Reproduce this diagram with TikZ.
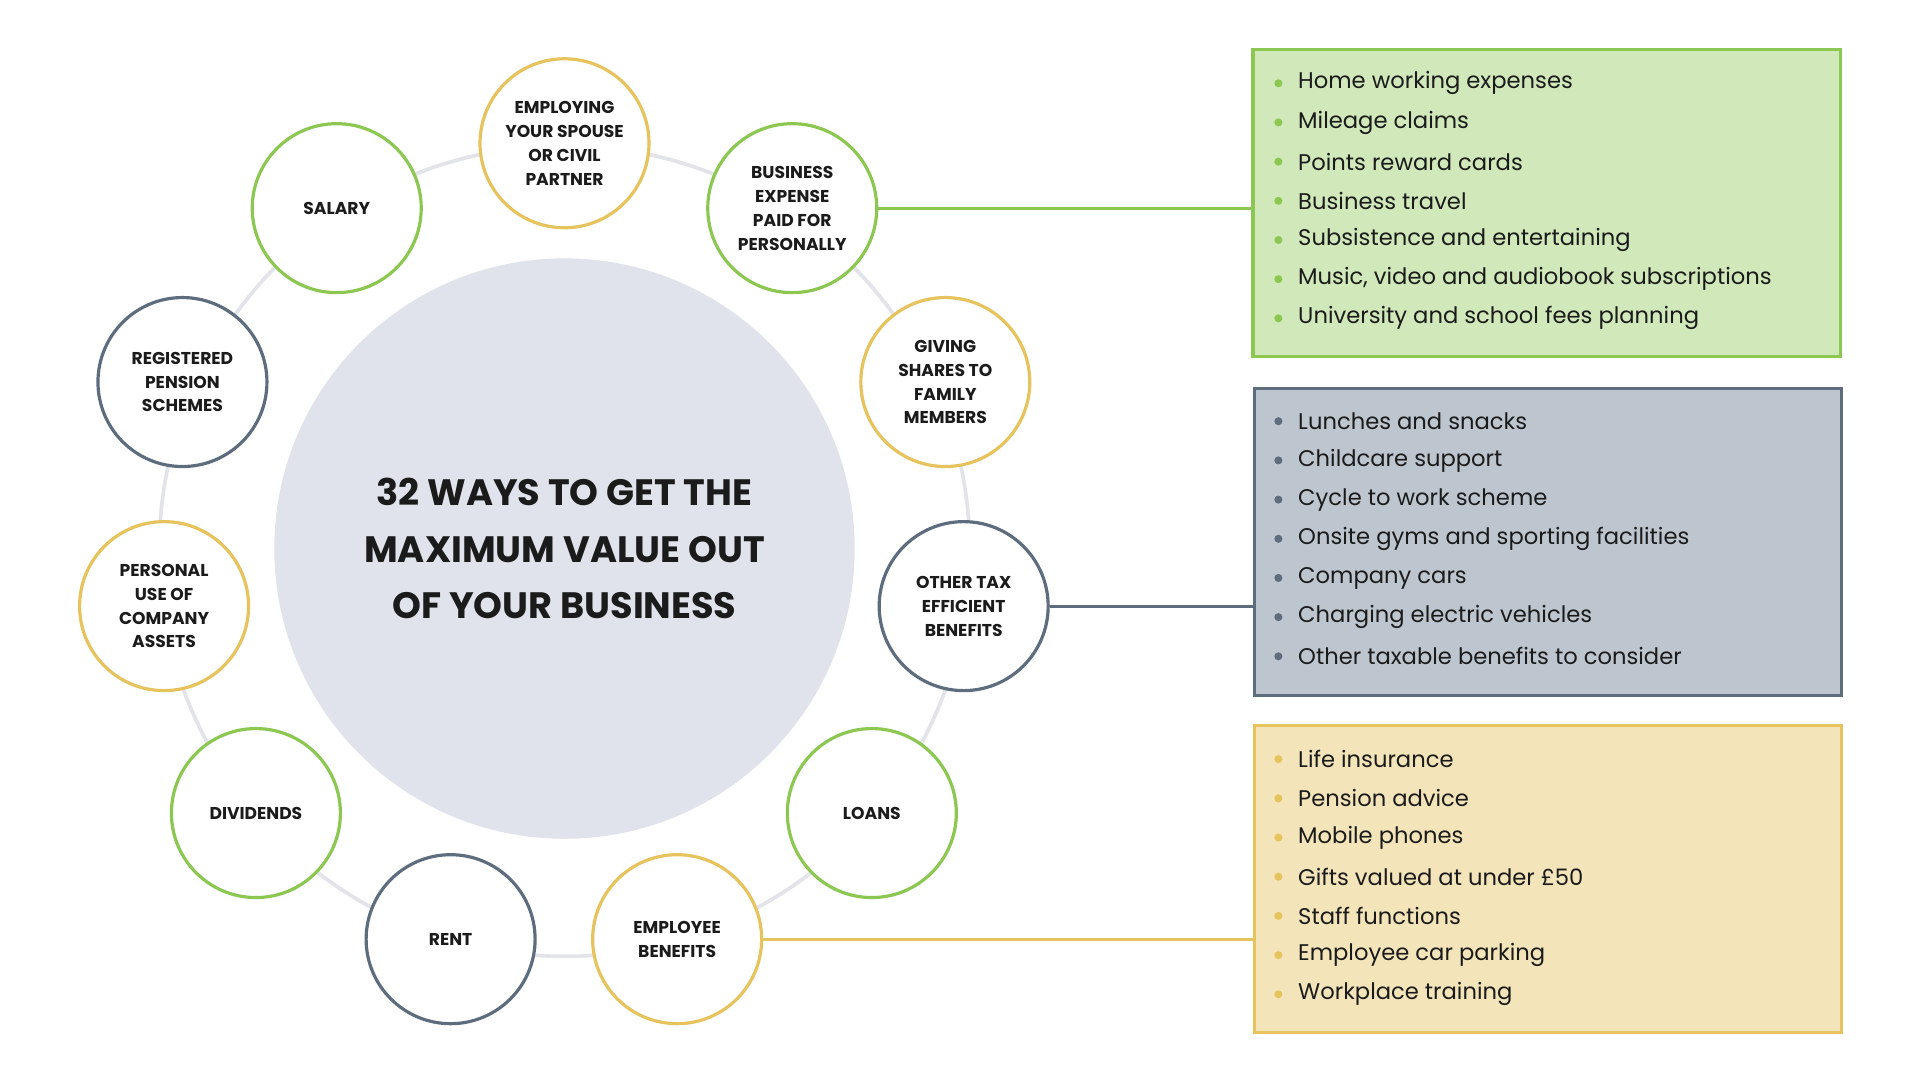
\documentclass[tikz,border=0pt]{standalone}
\usepackage{fontspec}
\setmainfont{Poppins}
\begin{document}
\definecolor{gS}{HTML}{8CC851}\definecolor{gF}{HTML}{D0E8BA}
\definecolor{bS}{HTML}{5D6D7E}\definecolor{bF}{HTML}{BDC5CE}
\definecolor{yS}{HTML}{E6C35C}\definecolor{yF}{HTML}{F3E4BA}
\definecolor{cF}{HTML}{E0E3EC}\definecolor{ring}{HTML}{E2E4EA}
\definecolor{ink}{HTML}{1B1B1B}
\begin{tikzpicture}[x=1pt,y=-1pt,
 sm/.style={circle,draw,line width=2.6pt,fill=white,minimum size=138pt,align=center,font=\fontsize{14}{19.5}\selectfont\bfseries,text=ink,inner sep=0pt},
 gc/.style={sm,draw=gS},bc/.style={sm,draw=bS},yc/.style={sm,draw=yS},
 box/.style={draw,line width=2.5pt,minimum width=480pt,minimum height=251pt,anchor=north west},
 item/.style={anchor=west,font=\fontsize{18.5}{20}\selectfont,text=ink,inner sep=0pt}]
\useasboundingbox (0,0) rectangle (1568,882);
\fill[white] (0,0) rectangle (1568,882);
\draw[ring,line width=3pt] (461,450) circle (331);
\node[circle,fill=cF,minimum size=474pt,align=center,font=\fontsize{30}{46}\selectfont\bfseries,text=ink] (c) at (461,448) {32 WAYS TO GET THE\\MAXIMUM VALUE OUT\\OF YOUR BUSINESS};
\node[yc] (emp) at (461,117) {EMPLOYING\\YOUR SPOUSE\\OR CIVIL\\PARTNER};
\node[gc] (bus) at (647,170) {BUSINESS\\EXPENSE\\PAID FOR\\PERSONALLY};
\node[yc] (giv) at (772,312) {GIVING\\SHARES TO\\FAMILY\\MEMBERS};
\node[bc] (oth) at (787,495) {OTHER TAX\\EFFICIENT\\BENEFITS};
\node[gc] (loa) at (712,664) {LOANS};
\node[yc] (eb) at (553,767) {EMPLOYEE\\BENEFITS};
\node[bc] (ren) at (368,767) {RENT};
\node[gc] (div) at (209,664) {DIVIDENDS};
\node[yc] (per) at (134,495) {PERSONAL\\USE OF\\COMPANY\\ASSETS};
\node[bc] (reg) at (149,312) {REGISTERED\\PENSION\\SCHEMES};
\node[gc] (sal) at (275,170) {SALARY};
\node[box,draw=gS,fill=gF] (B1) at (1022,39) {};
\node[box,draw=bS,fill=bF] (B2) at (1023,316) {};
\node[box,draw=yS,fill=yF] (B3) at (1023,591) {};
\draw[gS,line width=2.5pt] (bus.east) -- (bus.east -| B1.west);
\draw[bS,line width=2.5pt] (oth.east) -- (oth.east -| B2.west);
\draw[yS,line width=2.5pt] (eb.east) -- (eb.east -| B3.west);
\foreach \t [count=\i] in {Home working expenses,Mileage claims,Points reward cards,Business travel,Subsistence and entertaining,{Music, video and audiobook subscriptions},University and school fees planning}
 {\fill[gS] (1044,36+32*\i) circle (3.3); \node[item] (g\i) at (1060,36+32*\i) {\t};}
\foreach \t [count=\i] in {Lunches and snacks,Childcare support,Cycle to work scheme,Onsite gyms and sporting facilities,Company cars,Charging electric vehicles,Other taxable benefits to consider}
 {\fill[bS] (1044,312+32*\i) circle (3.3); \node[item] (s\i) at (1060,312+32*\i) {\t};}
\foreach \t [count=\i] in {Life insurance,Pension advice,Mobile phones,Gifts valued at under £50,Staff functions,Employee car parking,Workplace training}
 {\fill[yS] (1044,588+32*\i) circle (3.3); \node[item] (y\i) at (1060,588+32*\i) {\t};}
\end{tikzpicture}
\end{document}
